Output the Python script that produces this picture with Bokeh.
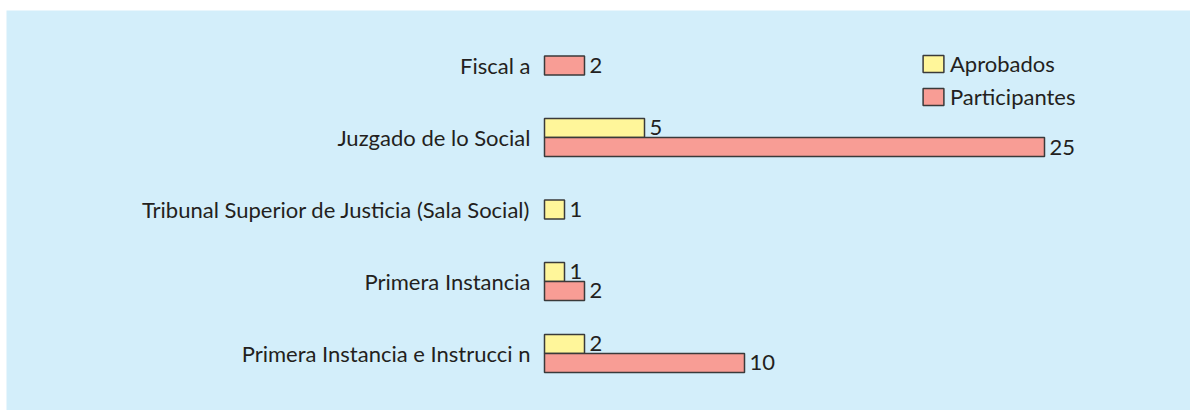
from bokeh.plotting import figure
from bokeh.models import ColumnDataSource, Range1d, Legend, LegendItem
from bokeh.core.properties import value
from bokeh.embed import file_html
from bokeh.resources import INLINE

categories = ["Fiscal a", "Juzgado de lo Social", "Tribunal Superior de Justicia (Sala Social)",
              "Primera Instancia", "Primera Instancia e Instrucci n"]
aprobados = [0, 5, 1, 1, 2]
participantes = [2, 25, 0, 2, 10]

BG = "#D3EEFA"
TXT = "#231F20"
FONT = "Lato"
FS = "22px"
BAR_H = 0.264

p = figure(width=1190, height=410, output_backend="svg", toolbar_location=None,
           x_range=Range1d(-26.9, 32.3), y_range=Range1d(4.792, -0.764),
           min_border_left=6, min_border_right=0, min_border_top=10, min_border_bottom=0)
p.background_fill_color = BG
p.border_fill_color = "white"
p.outline_line_color = None
p.xaxis.visible = False
p.yaxis.visible = False
p.xgrid.visible = False
p.ygrid.visible = False

def series(vals, other, sign):
    ys, xs = [], []
    for i, (v, o) in enumerate(zip(vals, other)):
        if v > 0:
            ys.append(i + (sign * BAR_H / 2 if o > 0 else 0))
            xs.append(v)
    return ColumnDataSource(dict(y=ys, v=xs, lbl=[str(x) for x in xs]))

src_a = series(aprobados, participantes, -1)
src_p = series(participantes, aprobados, 1)

ra = p.hbar(y="y", left=0, right="v", height=BAR_H, source=src_a,
            fill_color="#FFF69A", line_color="#3A3A3A", line_width=1.5)
rp = p.hbar(y="y", left=0, right="v", height=BAR_H, source=src_p,
            fill_color="#F89D95", line_color="#3A3A3A", line_width=1.5)

for s in (src_a, src_p):
    p.text(x="v", y="y", text="lbl", source=s, x_offset=5,
           text_align="left", text_baseline="middle",
           text_font=value(FONT), text_font_size=FS, text_color=TXT)

cat_src = ColumnDataSource(dict(y=list(range(len(categories))), x=[0] * len(categories), t=categories))
p.text(x="x", y="y", text="t", source=cat_src, x_offset=-14,
       text_align="right", text_baseline="middle",
       text_font=value(FONT), text_font_size=FS, text_color=TXT)

legend = Legend(items=[LegendItem(label="Aprobados", renderers=[ra]),
                       LegendItem(label="Participantes", renderers=[rp])],
                location=(914, 300), padding=0, margin=0, spacing=6,
                glyph_width=26, glyph_height=21, label_height=21, label_standoff=4,
                label_text_font=FONT, label_text_font_size=FS, label_text_color=TXT,
                background_fill_alpha=0, border_line_color=None)
p.add_layout(legend)

open("out.html", "w").write(file_html(p, INLINE))
